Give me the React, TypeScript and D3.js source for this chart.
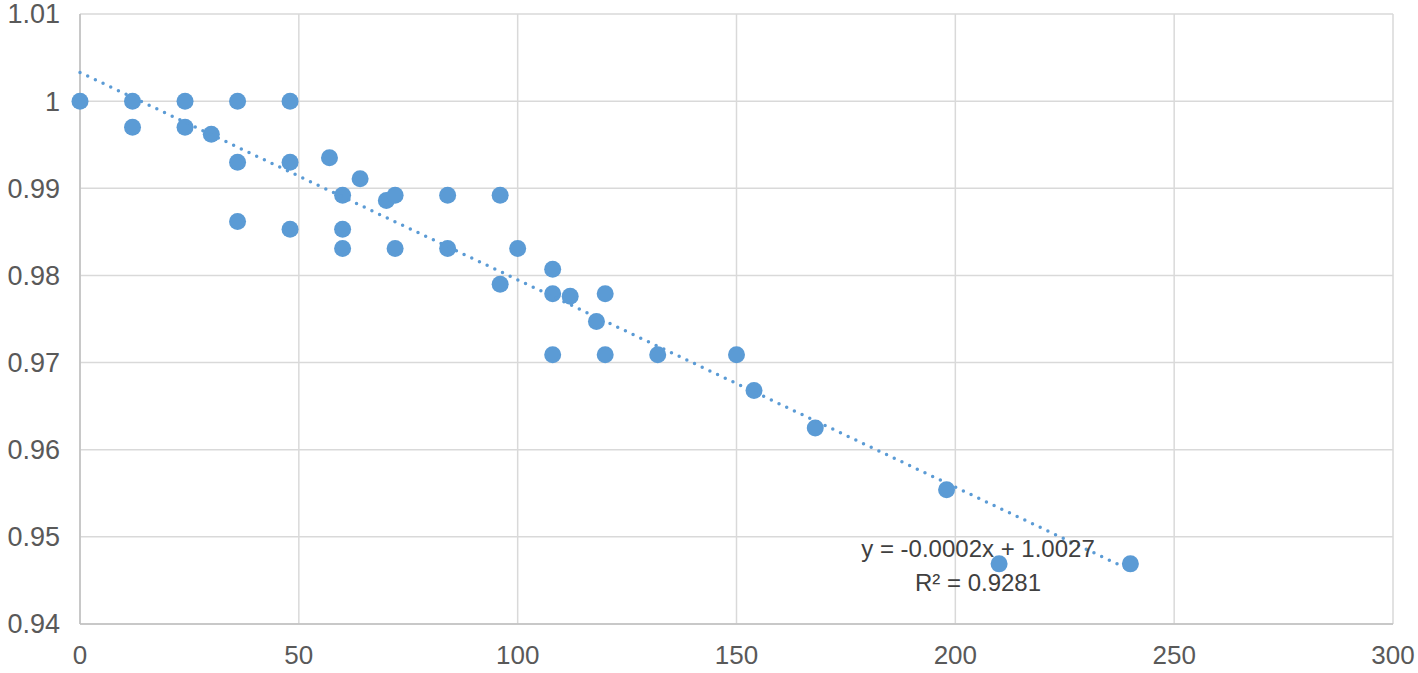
import React, { useEffect } from 'react'
import * as d3 from 'd3'

// hours vs relative value
const xValues = [
  0, 12, 12, 24, 24, 30, 36, 36, 36, 48, 48, 48,
  57, 64, 60, 70, 72, 60, 60, 72, 84, 84, 96, 96,
  100, 108, 108, 112, 120, 118, 108, 120, 132, 150, 154, 168,
  198, 210, 240
]
const yValues = [
  1.0, 1.0, 0.997, 1.0, 0.997, 0.9962, 1.0, 0.993, 0.9862, 1.0, 0.993, 0.9853,
  0.9935, 0.9911, 0.9892, 0.9886, 0.9892, 0.9853, 0.9831, 0.9831, 0.9892, 0.9831, 0.9892, 0.979,
  0.9831, 0.9807, 0.9779, 0.9776, 0.9779, 0.9747, 0.9709, 0.9709, 0.9709, 0.9709, 0.9668, 0.9625,
  0.9554, 0.9469, 0.9469
]
const xTicks = [0, 50, 100, 150, 200, 250, 300]
const yTicks = [0.94, 0.95, 0.96, 0.97, 0.98, 0.99, 1, 1.01]
const trendLabel = 'y = -0.0002x + 1.0027'
const r2Label = 'R² = 0.9281'

const W = 1418
const H = 673
const margin = { left: 80, right: 25, top: 14, bottom: 49 }
const blue = '#5B9BD5'
const grid = '#D9D9D9'
const textColor = '#595959'
const font = '"Liberation Sans", Arial, sans-serif'

const App: React.FC = () => {
  useEffect(() => {
    document.body.style.margin = '0'
  }, [])

  const x = d3.scaleLinear().domain([0, 300]).range([margin.left, W - margin.right])
  const y = d3.scaleLinear().domain([0.94, 1.01]).range([H - margin.bottom, margin.top])

  // linear trendline (least squares)
  const mx = d3.mean(xValues) as number
  const my = d3.mean(yValues) as number
  let sxy = 0
  let sxx = 0
  xValues.forEach((v, i) => {
    sxy += (v - mx) * (yValues[i] - my)
    sxx += (v - mx) * (v - mx)
  })
  const slope = sxy / sxx
  const intercept = my - slope * mx
  const xMax = d3.max(xValues) as number
  const trend = d3.line<number>().x(d => x(d)).y(d => y(intercept + slope * d))([0, xMax])

  return (
    <svg width={W} height={H} style={{ display: 'block', background: '#fff' }}>
      {xTicks.map(t => (
        <line key={'gx' + t} x1={x(t)} x2={x(t)} y1={y(1.01)} y2={y(0.94)} stroke={grid} strokeWidth={1.5} />
      ))}
      {yTicks.map(t => (
        <line key={'gy' + t} x1={x(0)} x2={x(300)} y1={y(t)} y2={y(t)} stroke={grid} strokeWidth={1.5} />
      ))}
      <line x1={x(0)} x2={x(300)} y1={y(0.94)} y2={y(0.94)} stroke="#BFBFBF" strokeWidth={1.5} />
      <line x1={x(0)} x2={x(0)} y1={y(1.01)} y2={y(0.94)} stroke="#BFBFBF" strokeWidth={1.5} />
      {yTicks.map(t => (
        <text key={'ty' + t} x={60} y={y(t)} dy="0.35em" textAnchor="end" fontSize={27} fontFamily={font} fill={textColor}>
          {d3.format('')(+t.toFixed(2))}
        </text>
      ))}
      {xTicks.map(t => (
        <text key={'tx' + t} x={x(t)} y={664} textAnchor="middle" fontSize={26} fontFamily={font} fill={textColor}>
          {t}
        </text>
      ))}
      {xValues.map((v, i) => (
        <circle key={'p' + i} cx={x(v)} cy={y(yValues[i])} r={8.5} fill={blue} />
      ))}
      <path d={trend || ''} fill="none" stroke={blue} strokeWidth={3.5} strokeDasharray="0 8.5" strokeLinecap="round" />
      <text x={978} y={557} textAnchor="middle" fontSize={24} fontFamily={font} fill="#404040">{trendLabel}</text>
      <text x={978} y={591} textAnchor="middle" fontSize={24} fontFamily={font} fill="#404040">{r2Label}</text>
    </svg>
  )
}

export default App
